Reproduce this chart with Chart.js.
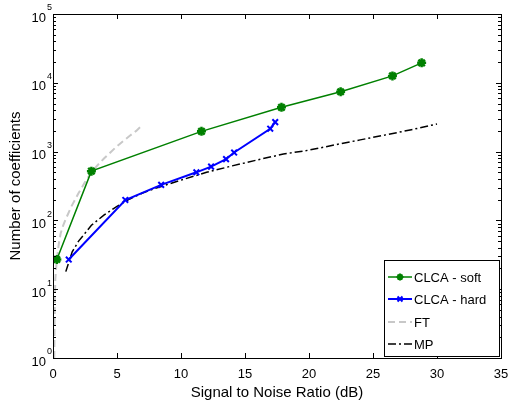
<!DOCTYPE html>
<html>
<head>
<meta charset="utf-8">
<script src="https://cdn.jsdelivr.net/npm/chart.js@4"></script>
<style>
  html, body { margin: 0; padding: 0; background: #fff; }
  canvas { display: block; }
</style>
</head>
<body>
<canvas id="chart" width="511" height="404"></canvas>
<script>
// values
const softX = [0.3, 3.0, 11.6, 17.85, 22.47, 26.52, 28.8];
const softY = [27, 520, 1970, 4400, 7400, 12600, 19500];

const hardX = [1.23, 5.65, 8.45, 11.2, 12.35, 13.52, 14.15, 16.97, 17.36];
const hardY = [27, 198, 328, 500, 605, 778, 970, 2150, 2680];

const ftX = [0.1, 0.12, 0.15, 0.18, 0.29, 0.45, 0.6, 0.8, 1.0, 1.44, 2.0, 2.5, 3.0, 3.5, 4.0, 4.5, 5.0, 5.5, 6.0, 6.5, 6.9];
const ftY = [1, 3, 8, 14, 26, 45, 65, 85, 105, 160, 250, 360, 500, 640, 800, 980, 1200, 1430, 1700, 2000, 2350];

const mpX = [1.0, 1.5, 2.0, 2.5, 3.0, 4.0, 5.0, 6.0, 7.0, 8.0, 10, 12, 14, 16, 18, 20, 22, 24, 26, 28, 30];
const mpY = [18, 35, 50, 65, 85, 120, 160, 205, 250, 292, 385, 500, 620, 760, 920, 1050, 1250, 1480, 1750, 2080, 2520];

const xTicks = [0, 5, 10, 15, 20, 25, 30, 35];
const yExps = [0, 1, 2, 3, 4, 5];

const legendLabels = ['CLCA - soft', 'CLCA - hard', 'FT', 'MP'];

const GREEN = '#008000';
const BLUE = '#0000ff';
const GRAY = '#c8c8c8';
const FONT = '"Liberation Sans", Arial, Helvetica, sans-serif';

const pts = (xs, ys) => xs.map((x, i) => ({ x, y: ys[i] }));

function drawStar(ctx, x, y, r) {
  ctx.beginPath();
  for (let k = 0; k < 4; k++) {
    const a = k * Math.PI / 4;
    ctx.moveTo(x - r * Math.cos(a), y - r * Math.sin(a));
    ctx.lineTo(x + r * Math.cos(a), y + r * Math.sin(a));
  }
  ctx.stroke();
}

function drawCross(ctx, x, y, r) {
  ctx.beginPath();
  ctx.moveTo(x - r, y - r); ctx.lineTo(x + r, y + r);
  ctx.moveTo(x - r, y + r); ctx.lineTo(x + r, y - r);
  ctx.stroke();
}

// axes box, inward ticks, tick labels, titles and the legend, MATLAB style
const matlabFrame = {
  id: 'matlabFrame',
  afterDraw(chart) {
    const { ctx, chartArea: a, scales } = chart;
    const xs = scales.x, ys = scales.y;
    ctx.save();
    ctx.strokeStyle = '#000';
    ctx.fillStyle = '#000';
    ctx.lineWidth = 1;
    ctx.setLineDash([]);

    // x ticks
    ctx.beginPath();
    xTicks.forEach(t => {
      const px = Math.round(xs.getPixelForValue(t)) + 0.5;
      ctx.moveTo(px, a.bottom); ctx.lineTo(px, a.bottom - 5);
      ctx.moveTo(px, a.top); ctx.lineTo(px, a.top + 5);
    });
    // y ticks, majors and minors
    yExps.forEach(e => {
      const py = Math.round(ys.getPixelForValue(Math.pow(10, e))) + 0.5;
      ctx.moveTo(a.left, py); ctx.lineTo(a.left + 5, py);
      ctx.moveTo(a.right, py); ctx.lineTo(a.right - 5, py);
      if (e < 5) {
        for (let m = 2; m <= 9; m++) {
          const q = Math.round(ys.getPixelForValue(m * Math.pow(10, e))) + 0.5;
          ctx.moveTo(a.left, q); ctx.lineTo(a.left + 3, q);
          ctx.moveTo(a.right, q); ctx.lineTo(a.right - 3, q);
        }
      }
    });
    ctx.stroke();

    // box
    ctx.strokeRect(Math.round(a.left) + 0.5, Math.round(a.top) + 0.5,
      Math.round(a.right - a.left), Math.round(a.bottom - a.top));

    // x tick labels
    ctx.font = '13px ' + FONT;
    ctx.textAlign = 'center';
    ctx.textBaseline = 'middle';
    xTicks.forEach(t => ctx.fillText(String(t), xs.getPixelForValue(t), a.bottom + 16));

    // y tick labels: 10 with superscript exponent
    yExps.forEach(e => {
      const py = ys.getPixelForValue(Math.pow(10, e));
      ctx.font = '9px ' + FONT;
      ctx.textAlign = 'left';
      ctx.fillText(String(e), a.left - 6, py - 6);
      ctx.font = '13px ' + FONT;
      ctx.textAlign = 'right';
      ctx.fillText('10', a.left - 7, py + 4);
    });

    // axis titles
    ctx.font = '15px ' + FONT;
    ctx.textAlign = 'center';
    ctx.fillText('Signal to Noise Ratio (dB)', (a.left + a.right) / 2, a.bottom + 35);
    ctx.save();
    ctx.translate(16, (a.top + a.bottom) / 2);
    ctx.rotate(-Math.PI / 2);
    ctx.fillText('Number of coefficients', 0, 0);
    ctx.restore();

    // legend
    const lx = 384, ly = 260, lw = 115, lh = 96;
    ctx.fillStyle = '#fff';
    ctx.fillRect(lx, ly, lw, lh);
    ctx.strokeStyle = '#000';
    ctx.strokeRect(lx + 0.5, ly + 0.5, lw, lh);
    const rows = [277, 299, 322, 344];
    const ds = chart.data.datasets;
    rows.forEach((ry, i) => {
      const d = ds[i];
      ctx.strokeStyle = d.borderColor;
      ctx.lineWidth = d.borderWidth;
      ctx.setLineDash(d.borderDash || []);
      ctx.beginPath();
      ctx.moveTo(388, ry); ctx.lineTo(412, ry);
      ctx.stroke();
      ctx.setLineDash([]);
      ctx.lineWidth = 2;
      if (i === 0) drawStar(ctx, 400, ry, 3.5);
      if (i === 1) drawCross(ctx, 400, ry, 2.5);
      ctx.fillStyle = '#000';
      ctx.font = '13px ' + FONT;
      ctx.textAlign = 'left';
      ctx.fillText(legendLabels[i], 414, ry + 1);
    });
    ctx.restore();
  }
};

new Chart(document.getElementById('chart'), {
  type: 'line',
  data: {
    datasets: [
      { label: legendLabels[0], data: pts(softX, softY), borderColor: GREEN, backgroundColor: GREEN,
        borderWidth: 1.5, pointStyle: 'star', pointRadius: 4.5, pointBorderWidth: 2.5, tension: 0 },
      { label: legendLabels[1], data: pts(hardX, hardY), borderColor: BLUE, backgroundColor: BLUE,
        borderWidth: 2, pointStyle: 'crossRot', pointRadius: 4, pointBorderWidth: 2, tension: 0 },
      { label: legendLabels[2], data: pts(ftX, ftY), borderColor: GRAY, borderWidth: 2,
        borderDash: [7, 4], pointRadius: 0, tension: 0 },
      { label: legendLabels[3], data: pts(mpX, mpY), borderColor: '#000', borderWidth: 1.5,
        borderDash: [8, 3, 2, 3], pointRadius: 0, tension: 0 }
    ]
  },
  options: {
    responsive: false,
    animation: false,
    devicePixelRatio: 1,
    layout: { padding: { left: 53, right: 10, top: 14, bottom: 46 } },
    plugins: { legend: { display: false }, tooltip: { enabled: false } },
    scales: {
      x: { type: 'linear', min: 0, max: 35, display: false },
      y: { type: 'logarithmic', min: 1, max: 100000, display: false }
    }
  },
  plugins: [matlabFrame]
});
</script>
</body>
</html>
